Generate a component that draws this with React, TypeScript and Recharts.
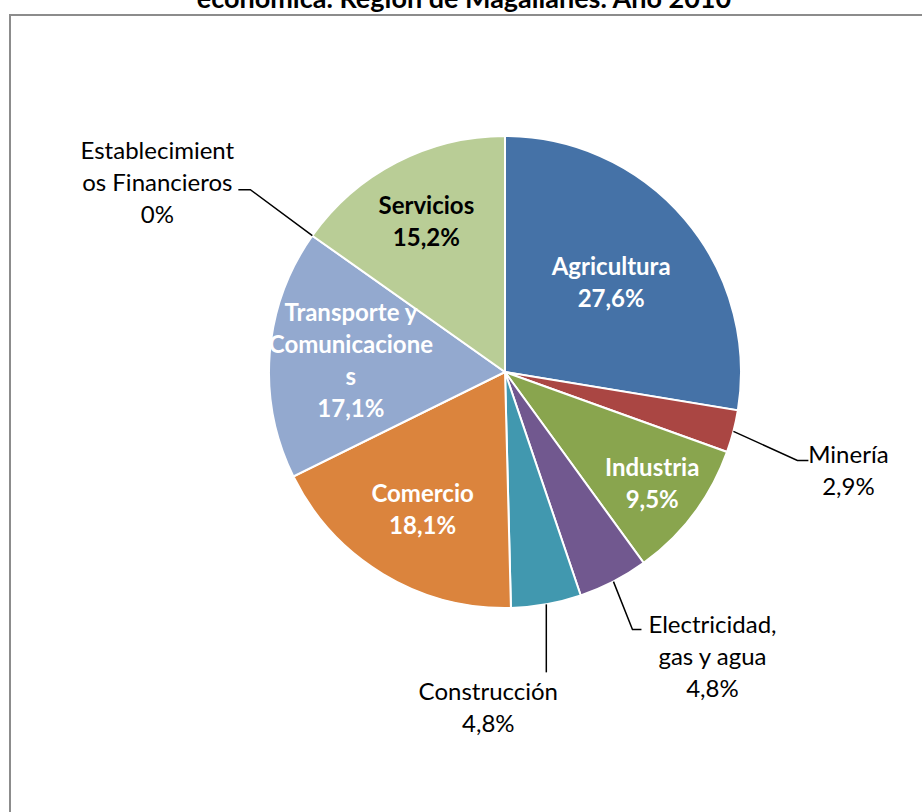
import { Cell, Pie, PieChart } from "recharts";

const sectors = [
  "Agricultura",
  "Minería",
  "Industria",
  "Electricidad, gas y agua",
  "Construcción",
  "Comercio",
  "Transporte y Comunicaciones",
  "Establecimientos Financieros",
  "Servicios",
];
const shares = [27.6, 2.9, 9.5, 4.8, 4.8, 18.1, 17.1, 0, 15.2];
const shareLabels = ["27,6%", "2,9%", "9,5%", "4,8%", "4,8%", "18,1%", "17,1%", "0%", "15,2%"];
// how Excel wrapped the category names
const nameLines = [
  ["Agricultura"],
  ["Minería"],
  ["Industria"],
  ["Electricidad,", "gas y agua"],
  ["Construcción"],
  ["Comercio"],
  ["Transporte y", "Comunicacione", "s"],
  ["Establecimient", "os Financieros"],
  ["Servicios"],
];
const colors = ["#4572A7", "#AA4643", "#89A54E", "#71588F", "#4198AF", "#DB843D", "#93A9CF", "#A47D7C", "#B9CD96"];

const data = sectors.map((name, i) => ({ name, value: shares[i] }));

const FONT = "Lato, 'Open Sans', sans-serif";
const LINE = 32;
const RAD = Math.PI / 180;

// inside labels: distance from centre as a fraction of the radius
const insideLabel: Record<string, { r: number; color: string }> = {
  Agricultura: { r: 0.59, color: "#fff" },
  Industria: { r: 0.78, color: "#fff" },
  Comercio: { r: 0.675, color: "#fff" },
  "Transporte y Comunicaciones": { r: 0.655, color: "#fff" },
  Servicios: { r: 0.725, color: "#000" },
};

// outside labels: leader elbow / end, and text centre, relative to the slice edge
const outsideLabel: Record<string, { elbow: [number, number]; end: [number, number]; text: [number, number] }> = {
  "Minería": { elbow: [64, 29], end: [75, 29], text: [115, 22] },
  "Electricidad, gas y agua": { elbow: [19, 48], end: [28, 48], text: [99, 42] },
  "Construcción": { elbow: [0, 68], end: [0, 68], text: [-58, 86] },
  "Establecimientos Financieros": { elbow: [-62, -46], end: [-74, -46], text: [-155, -86] },
};

function renderLabel(props: any) {
  const { cx, cy, midAngle, outerRadius, index } = props;
  const name = sectors[index];
  const lines = [...nameLines[index], shareLabels[index]];
  const cos = Math.cos(-midAngle * RAD);
  const sin = Math.sin(-midAngle * RAD);

  const inside = insideLabel[name];
  if (inside) {
    const x = cx + outerRadius * inside.r * cos;
    const y = cy + outerRadius * inside.r * sin;
    return (
      <g key={`l-${index}`}>
        {lines.map((t, i) => (
          <text
            key={i}
            x={x}
            y={y + (i - (lines.length - 1) / 2) * LINE}
            textAnchor="middle"
            dominantBaseline="central"
            fill={inside.color}
            fontFamily={FONT}
            fontWeight="bold"
            fontSize={24}
          >
            {t}
          </text>
        ))}
      </g>
    );
  }

  const out = outsideLabel[name];
  const ex = cx + outerRadius * cos;
  const ey = cy + outerRadius * sin;
  return (
    <g key={`l-${index}`}>
      <polyline
        points={`${ex},${ey} ${ex + out.elbow[0]},${ey + out.elbow[1]} ${ex + out.end[0]},${ey + out.end[1]}`}
        fill="none"
        stroke="#000"
        strokeWidth={1.5}
      />
      {lines.map((t, i) => (
        <text
          key={i}
          x={ex + out.text[0]}
          y={ey + out.text[1] + i * LINE}
          textAnchor="middle"
          dominantBaseline="central"
          fill="#000"
          fontFamily={FONT}
          fontSize={24}
        >
          {t}
        </text>
      ))}
    </g>
  );
}

export default function App() {
  return (
    <div
      style={{
        position: "absolute",
        left: 0,
        top: 0,
        width: 922,
        height: 812,
        overflow: "hidden",
        background: "#fff",
      }}
    >
      {/* second line of the title; the first line falls outside the crop */}
      <svg width={922} height={30} style={{ position: "absolute", left: 0, top: 0 }}>
        <text x={464} y={8} textAnchor="middle" fontFamily={FONT} fontWeight="bold" fontSize={27} fill="#000">
          económica. Región de Magallanes. Año 2010
        </text>
      </svg>
      <div
        style={{
          position: "absolute",
          left: 9,
          top: 14,
          width: 1000,
          height: 1000,
          border: "2px solid #8c8c8c",
        }}
      />
      <div style={{ position: "absolute", left: 0, top: 0 }}>
        <PieChart width={922} height={812} margin={{ top: 0, right: 0, bottom: 0, left: 0 }}>
          <Pie
            data={data}
            dataKey="value"
            nameKey="name"
            cx={505}
            cy={372}
            outerRadius={236}
            startAngle={90}
            endAngle={-270}
            stroke="#fff"
            strokeWidth={2}
            label={renderLabel}
            labelLine={false}
            isAnimationActive={false}
          >
            {data.map((d, i) => (
              <Cell key={d.name} fill={colors[i]} />
            ))}
          </Pie>
        </PieChart>
      </div>
    </div>
  );
}
